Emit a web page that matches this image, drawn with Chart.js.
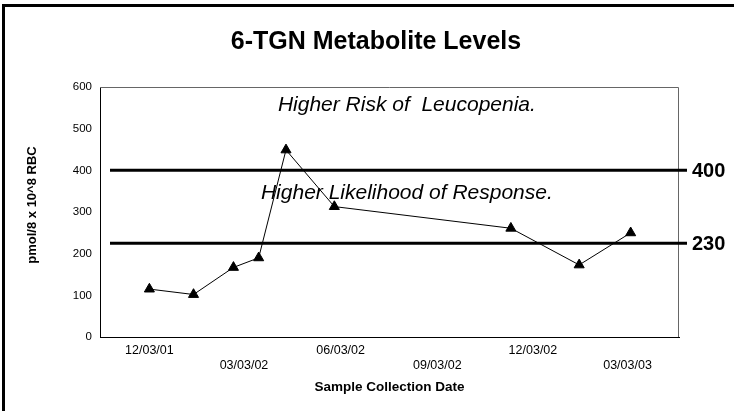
<!DOCTYPE html>
<html>
<head>
<meta charset="utf-8">
<script src="https://cdn.jsdelivr.net/npm/chart.js@4/dist/chart.umd.min.js"></script>
<style>
  html, body { margin: 0; padding: 0; background: #fff; overflow: hidden; }
  #wrap { position: relative; width: 734px; height: 411px; }
  #frame { position: absolute; left: 2px; top: 4px; width: 760px; height: 440px;
           border-left: 3px solid #000; border-top: 3px solid #000; box-sizing: border-box; pointer-events: none; }
  canvas { position: absolute; left: 0; top: 0; }
</style>
</head>
<body>
<div id="wrap">
  <canvas id="c" width="734" height="411"></canvas>
  <div id="frame"></div>
</div>
<script>
// ---- data ----
const chartTitle = '6-TGN Metabolite Levels';
const yAxisTitle = 'pmol/8 x 10^8 RBC';
const xAxisTitle = 'Sample Collection Date';
const sampleDates = ['2001-12-03','2002-01-14','2002-02-21','2002-03-17','2002-04-12','2002-05-28','2002-11-12','2003-01-16','2003-03-06'];
const tgnLevels = [115, 102, 167, 190, 449, 313, 261, 173, 250];
const tickDates = ['2001-12-03','2002-03-03','2002-06-03','2002-09-03','2002-12-03','2003-03-03'];
const tickLabels = ['12/03/01','03/03/02','06/03/02','09/03/02','12/03/02','03/03/03'];
const axisRange = ['2001-10-17','2003-04-21'];
const thresholdValues = [400, 225];
const thresholdLabels = ['400', '230'];
const zoneTexts = ['Higher Risk of  Leucopenia.', 'Higher Likelihood of Response.'];
const zoneTextValues = [556, 345];

const baseDate = Date.parse(tickDates[0]);
const toDay = s => (Date.parse(s) - baseDate) / 86400000;
const points = sampleDates.map((d, i) => ({ x: toDay(d), y: tgnLevels[i] }));
const tickDays = tickDates.map(toDay);

const FONT = '"Liberation Sans", Arial, sans-serif';

const decor = {
  id: 'decor',
  beforeDraw(chart) {
    const ctx = chart.ctx;
    ctx.save();
    ctx.fillStyle = '#fff';
    ctx.fillRect(0, 0, chart.width, chart.height);
    ctx.restore();
  },
  beforeDatasetsDraw(chart) {
    const { ctx, chartArea: a, scales } = chart;
    ctx.save();
    // plot area border (top/right)
    ctx.strokeStyle = '#666';
    ctx.lineWidth = 1;
    ctx.beginPath();
    ctx.moveTo(a.left, a.top + 0.5);
    ctx.lineTo(a.right - 0.5, a.top + 0.5);
    ctx.lineTo(a.right - 0.5, a.bottom);
    ctx.stroke();
    // zone texts
    ctx.fillStyle = '#000';
    ctx.font = 'italic 21px ' + FONT;
    ctx.textAlign = 'center';
    ctx.textBaseline = 'middle';
    const cx = a.left + (a.right - a.left) * 0.53;
    zoneTexts.forEach((t, i) => ctx.fillText(t, cx, scales.y.getPixelForValue(zoneTextValues[i])));
    // threshold lines
    ctx.lineWidth = 3;
    ctx.strokeStyle = '#000';
    ctx.font = 'bold 20px ' + FONT;
    ctx.textAlign = 'left';
    thresholdValues.forEach((v, i) => {
      const y = scales.y.getPixelForValue(v);
      ctx.beginPath();
      ctx.moveTo(a.left + 10, y);
      ctx.lineTo(a.right + 8, y);
      ctx.stroke();
      ctx.fillText(thresholdLabels[i], a.right + 13, y + 1);
    });
    // titles
    ctx.font = 'bold 25px ' + FONT;
    ctx.textAlign = 'center';
    ctx.fillText(chartTitle, 376, 42);
    ctx.font = 'bold 13.5px ' + FONT;
    ctx.fillText(xAxisTitle, (a.left + a.right) / 2, 387);
    ctx.translate(32, (a.top + a.bottom) / 2 - 7);
    ctx.rotate(-Math.PI / 2);
    ctx.font = 'bold 13px ' + FONT;
    ctx.fillText(yAxisTitle, 0, 0);
    ctx.restore();
  }
};

new Chart(document.getElementById('c'), {
  type: 'line',
  data: {
    datasets: [{
      data: points,
      borderColor: '#000',
      borderWidth: 1,
      backgroundColor: '#000',
      pointStyle: 'triangle',
      pointRadius: 5.8,
      pointBorderWidth: 1,
      pointBackgroundColor: '#000',
      pointBorderColor: '#000',
      tension: 0,
      clip: false
    }]
  },
  options: {
    responsive: false,
    animation: false,
    events: [],
    layout: { padding: { left: 60, right: 55, top: 87, bottom: 0 } },
    plugins: { legend: { display: false }, tooltip: { enabled: false }, title: { display: false } },
    scales: {
      x: {
        type: 'linear',
        min: toDay(axisRange[0]),
        max: toDay(axisRange[1]),
        grid: { display: false, drawTicks: false },
        border: { display: true, color: '#000', width: 1 },
        afterBuildTicks: s => { s.ticks = tickDays.map(v => ({ value: v })); },
        afterFit: s => { s.height = 74; },
        ticks: {
          autoSkip: false, maxRotation: 0, minRotation: 0, padding: 6,
          color: '#000',
          font: { family: FONT, size: 12.5, lineHeight: 15 / 12.5 },
          callback: (v, i) => (i % 2 === 0 ? [tickLabels[i]] : ['', tickLabels[i]])
        }
      },
      y: {
        min: 0, max: 600,
        grid: { display: false, drawTicks: false },
        border: { display: true, color: '#000', width: 1 },
        afterFit: s => { s.width = 40; },
        ticks: { stepSize: 100, padding: 8, color: '#000', font: { family: FONT, size: 11.5 } }
      }
    }
  },
  plugins: [decor]
});
</script>
</body>
</html>
